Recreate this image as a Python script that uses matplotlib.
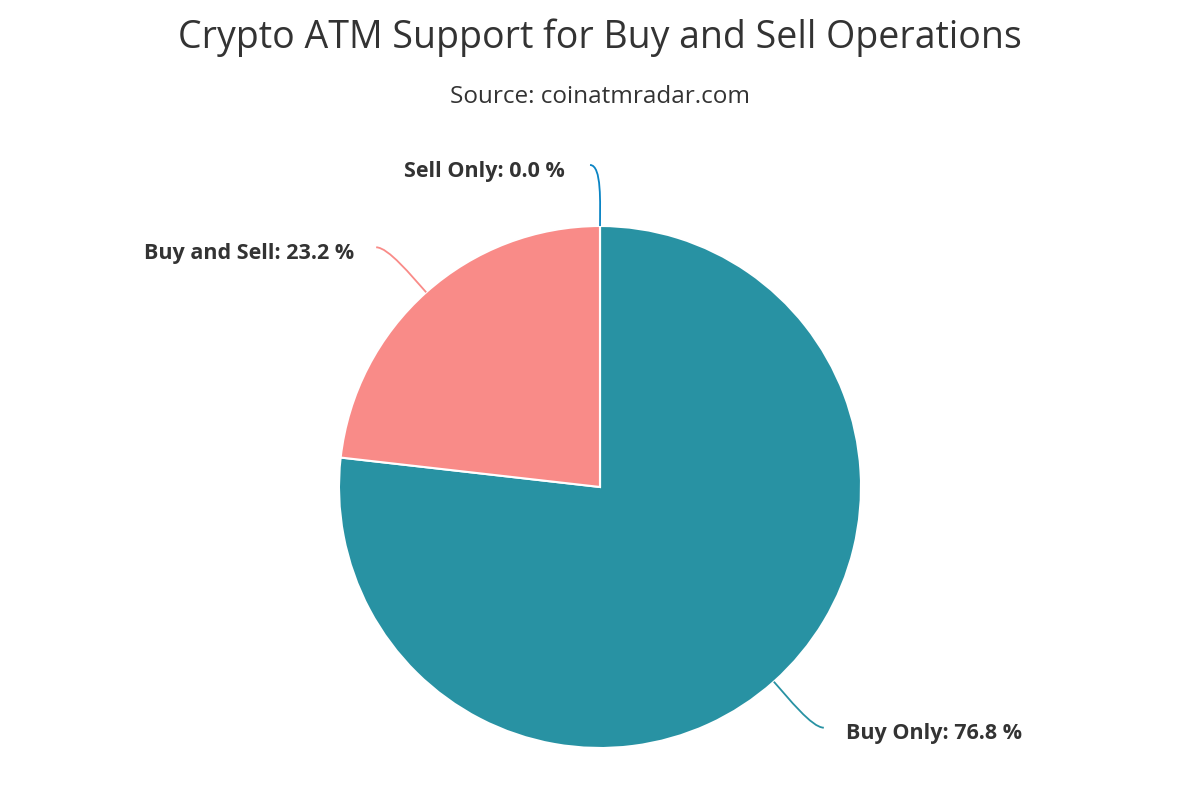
import numpy as np
import matplotlib.pyplot as plt
from matplotlib.path import Path
from matplotlib.patches import PathPatch

# data
labels = ['Buy Only', 'Buy and Sell', 'Sell Only']
shares = [76.8, 23.2, 0.0]
colors = ['#2892a3', '#f98b88', '#0a84c4']

# layout (pixels, origin bottom-left)
cx, cy, rad = 600, 313, 261
# label anchor offsets from the edge point of each slice
label_off = [(50, -46), (-50, 45), (-10, 61)]
label_shift = [0, 0, -3]

fig = plt.figure(figsize=(12, 8), dpi=100)
ax = fig.add_axes([0, 0, 1, 1])
ax.pie(shares, colors=colors, startangle=90, counterclock=False,
       center=(cx, cy), radius=rad,
       wedgeprops=dict(edgecolor='white', linewidth=1.5))
ax.set_xlim(0, 1200)
ax.set_ylim(0, 800)
ax.set_aspect('equal')
ax.axis('off')

total = sum(shares)
start = 90.0
for lab, val, col, off, sh in zip(labels, shares, colors, label_off, label_shift):
    sweep = 360.0 * val / total
    mid = np.deg2rad(start - sweep / 2)
    start -= sweep
    ux, uy = np.cos(mid), np.sin(mid)
    ex, ey = cx + rad * ux, cy + rad * uy
    lx, ly = ex + off[0], ey + off[1]
    side = 1 if off[0] > 0 else -1
    # curved connector from label to slice edge
    verts = [(lx, ly), (lx - side * 12, ly), (ex + ux * 22, ey + uy * 22), (ex, ey)]
    codes = [Path.MOVETO, Path.CURVE4, Path.CURVE4, Path.CURVE4]
    ax.add_patch(PathPatch(Path(verts, codes), fill=False, edgecolor=col, lw=1.3))
    ha = 'left' if side > 0 else 'right'
    tx = lx + side * 22 + sh
    ax.text(tx, ly - 6, f'{lab}: {val:.1f} %', ha=ha, va='center',
            fontsize=15.5, fontweight='bold', color='#333333', family='Open Sans')

fig.text(0.5, 0.953, 'Crypto ATM Support for Buy and Sell Operations', ha='center', va='center',
         fontsize=27, color='#333333', family='Open Sans')
fig.text(0.5, 0.879, 'Source: coinatmradar.com', ha='center', va='center',
         fontsize=17.5, color='#333333', family='Open Sans')

plt.savefig('out.png', dpi=100)
